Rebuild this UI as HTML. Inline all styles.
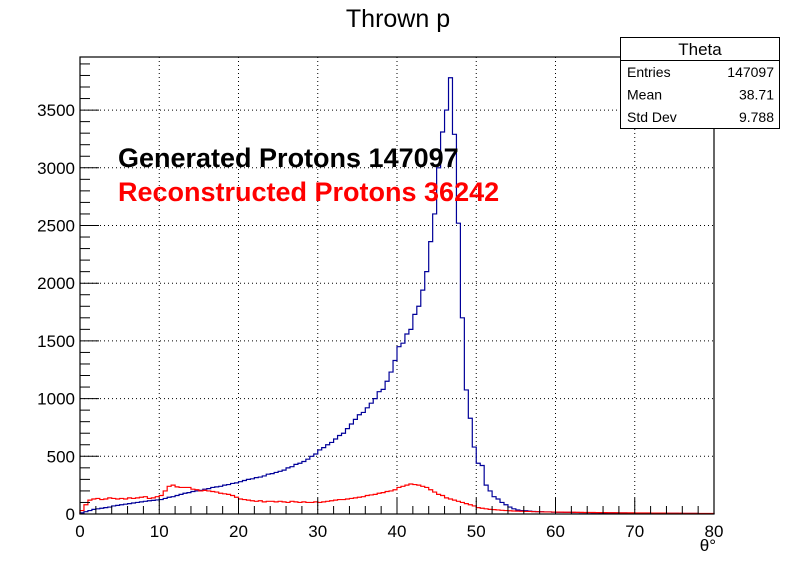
<!DOCTYPE html>
<html><head><meta charset="utf-8"><style>
body{margin:0;background:#fff}
svg{display:block;font-family:"Liberation Sans",sans-serif}
</style></head><body>
<svg id="c" width="796" height="572"></svg>
<script>
const binWidth=0.5;
const generated=[10,20,30,40,45,50,55,60,70,75,
80,85,90,95,100,105,110,115,118,122,
125,135,145,150,160,170,180,185,195,200,
205,215,220,230,235,240,250,255,265,270,
280,290,300,305,315,320,330,345,350,360,
370,380,400,410,430,440,455,475,500,520,
555,575,600,620,650,680,700,740,780,820,
860,880,920,960,1000,1060,1080,1150,1230,1330,
1450,1480,1560,1600,1730,1800,1940,2100,2360,2600,
3000,3310,3500,3780,3290,2520,1700,1075,830,580,
440,420,250,200,150,130,100,80,60,45,
35,30,28,25,22,20,20,18,18,16,
15,15,14,14,13,13,12,12,12,11,
11,10,10,10,10,9,9,9,8,8,
8,8,7,7,7,7,6,6,6,6,
6,5,5,5,5,5,4,4,4,4];
const reconstructed=[30,80,120,130,135,125,130,140,135,130,
135,130,140,135,140,145,150,135,140,150,
160,200,240,250,235,230,230,230,215,210,
200,205,200,195,190,180,175,170,160,145,
130,125,120,115,110,115,105,110,110,105,
110,105,100,110,105,100,105,100,100,105,
100,105,110,115,120,125,125,130,135,140,
145,150,160,165,170,180,185,195,200,210,
230,240,250,260,255,250,240,230,210,190,
170,160,140,130,120,110,100,90,80,70,
55,50,45,40,38,35,32,30,28,26,
25,24,22,22,20,20,19,18,18,17,
16,16,15,15,15,14,14,13,13,13,
12,12,12,11,11,11,10,10,10,10,
9,9,9,9,8,8,8,8,7,7,
7,7,6,6,6,6,5,5,5,5];
const xTicks=[0,10,20,30,40,50,60,70,80];
const yTicks=[0,500,1000,1500,2000,2500,3000,3500];
const stats=[["Entries","147097"],["Mean","38.71"],["Std Dev","9.788"]];

const L=80,R=714,T=57,B=514,xMax=80,yMax=3960;
const X=v=>L+(R-L)*v/xMax, Y=v=>B-(B-T)*v/yMax;
const svg=document.getElementById('c');const NS='http://www.w3.org/2000/svg';
function add(tag,attrs,parent,txt){const e=document.createElementNS(NS,tag);for(const k in attrs)e.setAttribute(k,attrs[k]);if(txt!==undefined)e.textContent=txt;(parent||svg).appendChild(e);return e;}

const grid=add('g',{stroke:'#000','stroke-dasharray':'1,3','stroke-width':1});

xTicks.slice(1,-1).forEach(t=>add('line',{x1:X(t),x2:X(t),y1:T,y2:B},grid));
yTicks.slice(1).forEach(t=>add('line',{x1:L,x2:R,y1:Y(t),y2:Y(t)},grid));

function hist(vals,color,name){let d='M'+X(0)+','+Y(0);vals.forEach((v,i)=>{d+=' L'+X(i*binWidth)+','+Y(v)+' L'+X((i+1)*binWidth)+','+Y(v);});d+=' L'+X(vals.length*binWidth)+','+Y(0);
const p=add('path',{d:d,fill:'none',stroke:color,'stroke-width':1.2});}
hist(generated,'#000099','generated-histogram');
hist(reconstructed,'#ff0000','reconstructed-histogram');

const frame=add('rect',{x:L,y:T,width:R-L,height:B-T,fill:'none',stroke:'#000','stroke-width':1.2});


const ax=add('g',{stroke:'#000','stroke-width':1});

for(let v=0;v<=xMax;v+=2){const maj=v%10===0;add('line',{x1:X(v),x2:X(v),y1:B,y2:B-(maj?16:8)},ax);}
for(let v=0;v<=3900;v+=100){const maj=v%500===0;add('line',{x1:L,x2:L+(maj?19:10),y1:Y(v),y2:Y(v)},ax);}
xTicks.forEach(t=>{const e=add('text',{x:X(t),y:B+23,'text-anchor':'middle','font-size':17},svg,t);});
yTicks.forEach(t=>{const e=add('text',{x:L-5,y:Y(t)+6,'text-anchor':'end','font-size':17},svg,t);});
let e=add('text',{x:716,y:551,'text-anchor':'end','font-size':17},svg,'θ°');
e=add('text',{x:398,y:27,'text-anchor':'middle','font-size':25},svg,'Thrown p');
e=add('text',{x:118,y:167,'font-size':27,'font-weight':'bold',fill:'#000'},svg,'Generated Protons 147097');
e=add('text',{x:118,y:201,'font-size':27,'font-weight':'bold',fill:'#ff0000'},svg,'Reconstructed Protons 36242');

const sb=add('g',{});
add('rect',{x:620.5,y:37.5,width:159,height:91,fill:'#fff',stroke:'#000'},sb);
add('line',{x1:620,x2:780,y1:60.5,y2:60.5,stroke:'#000'},sb);
add('text',{x:700,y:55,'text-anchor':'middle','font-size':17},sb,'Theta');
stats.forEach((s,i)=>{const y=77+i*22.5;add('text',{x:627,y:y,'font-size':14},sb,s[0]);add('text',{x:774,y:y,'text-anchor':'end','font-size':14},sb,s[1]);});
</script>
</body></html>
